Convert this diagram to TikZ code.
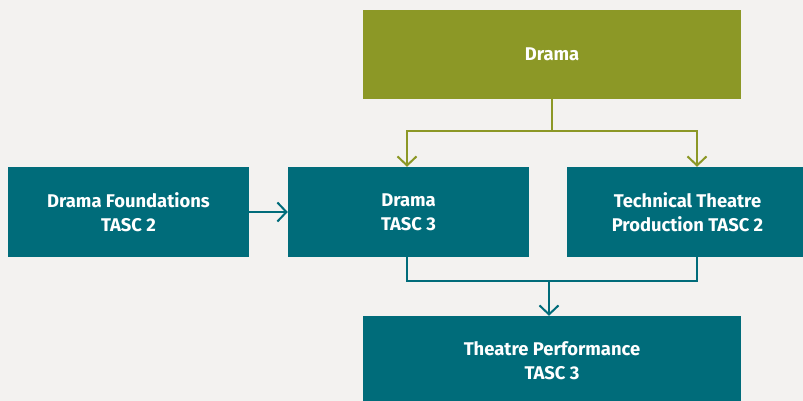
\documentclass[tikz,border=0pt]{standalone}
\usepackage{fontspec}
\setmainfont{Fira Sans}
\usetikzlibrary{arrows.meta}
\definecolor{bgpaper}{HTML}{F3F2F0}
\definecolor{olivebox}{HTML}{8C9826}
\definecolor{tealbox}{HTML}{006C7A}
\begin{document}
\begin{tikzpicture}[x=1pt,y=-1pt,
    box/.style={fill=tealbox,text=white,font=\bfseries\fontsize{18.4}{24}\selectfont,
      align=center,minimum width=241pt,minimum height=90pt,inner sep=0pt},
    widebox/.style={box,minimum width=378pt},
    topbox/.style={widebox,fill=olivebox,minimum height=89pt},
    link/.style={line width=2pt,draw=tealbox},
    tip/.style={-{Straight Barb[length=9pt,width=19pt,line width=2pt]}}]
  \fill[bgpaper] (0,0) rectangle (803,401);
  \useasboundingbox (0,0) rectangle (803,401);
  \node[topbox] (drama) at (552,54.5) {Drama};
  \node[box] (found) at (128.5,212) {Drama Foundations\\TASC 2};
  \node[box] (dramathree) at (408.5,212) {Drama\\TASC 3};
  \node[box] (tech) at (687.5,212) {Technical Theatre\\Production TASC 2};
  \node[widebox] (perf) at (552,361) {Theatre Performance\\TASC 3};
  \coordinate (split) at (552,131);
  \coordinate (join) at (549,281);
  \begin{scope}[link]
    \draw[draw=olivebox] (drama.south) -- (split);
    \draw[draw=olivebox,tip] (split) -| (dramathree.north -| 407,0);
    \draw[draw=olivebox,tip] (split) -| (tech.north -| 697,0);
    \draw[tip] (found) -- (dramathree);
    \draw (dramathree.south -| 407,0) |- (join);
    \draw (tech.south -| 697,0) |- (join);
    \draw[tip] (join) -- (perf.north -| join);
  \end{scope}
\end{tikzpicture}
\end{document}
